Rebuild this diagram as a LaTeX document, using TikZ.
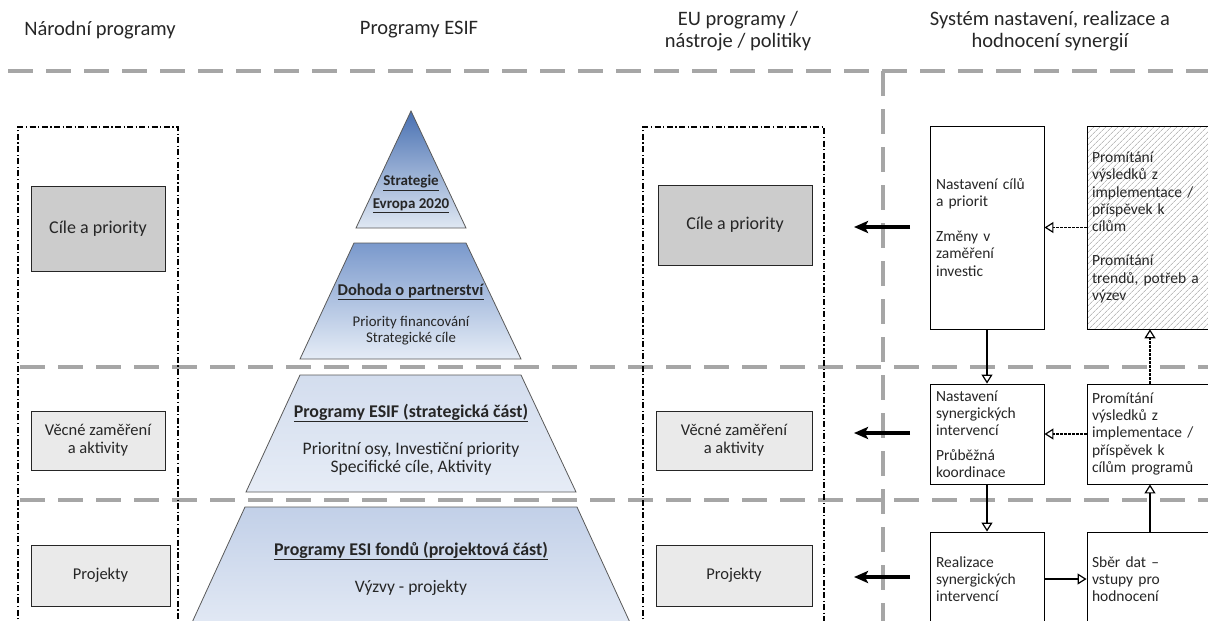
\documentclass[tikz,border=0pt]{standalone}
\usepackage{fontspec}
\setmainfont{Carlito}
\usetikzlibrary{arrows.meta,patterns.meta,calc}
\definecolor{txt}{HTML}{262626}
\definecolor{gline}{HTML}{A6A6A6}
\definecolor{boxgray}{HTML}{CCCCCC}
\definecolor{boxlight}{HTML}{EAEAEA}
\definecolor{pyrline}{HTML}{595959}
\definecolor{hatch}{HTML}{9A9A9A}
\definecolor{py1t}{HTML}{4870B2}
\definecolor{py1b}{HTML}{E0E8F3}
\definecolor{py2t}{HTML}{7A99CC}
\definecolor{py2b}{HTML}{E5ECF6}
\definecolor{py3t}{HTML}{D3DDEE}
\definecolor{py3b}{HTML}{E6ECF6}
\definecolor{py4t}{HTML}{C2D0E8}
\definecolor{py4b}{HTML}{E6ECF6}
\newcommand{\hdfont}{\fontsize{20.5}{22}\selectfont}
\newcommand{\rbfont}{\fontsize{15.5}{17.3}\selectfont}
\newcommand{\lbfont}{\fontsize{16.5}{18}\selectfont}
\newcommand{\ulb}[1]{\underline{\textbf{#1}}}
\begin{document}
\begin{tikzpicture}[x=1pt,y=-1pt,
  every node/.style={text=txt, inner sep=0pt},
  gdash/.style={draw=gline, line width=3.5pt, dash pattern=on 25pt off 13pt},
  ddbox/.style={draw=black, line width=1.2pt, dash pattern=on 6pt off 2.5pt on 1.2pt off 2.5pt},
  lbox/.style={draw=black!85, line width=0.9pt, fill=#1, font=\lbfont, align=center},
  rbox/.style={draw=black, line width=0.9pt, fill=white, align=left, font=\rbfont},
  hdr/.style={font=\hdfont, align=center},
  pyr/.style={draw=pyrline, line width=0.8pt},
  ptxt/.style={align=center},
  thick arrow/.style={line width=3.2pt, -{Stealth[length=14pt,width=12pt,inset=3pt]}},
  flow/.style={line width=1.4pt, -{Triangle[length=9pt,width=11pt,fill=white,line width=1.2pt]}},
  dflow/.style={flow, dash pattern=on 2.5pt off 1.5pt}
]
\path[use as bounding box] (0,0) rectangle (1208,621);
\clip (0,0) rectangle (1208,621);

% headers
\node[hdr] (h1) at (100,30) {Národní programy};
\node[hdr] (h2) at (419,30) {Programy ESIF};
\node[hdr] (h3) at (738,31) {EU programy /\\ nástroje / politiky};
\node[hdr] (h4) at (1050,31) {Systém nastavení, realizace a\\ hodnocení synergií};

% pyramid
\shade[top color=py1t, bottom color=py1b, pyr]
  (411,111) -- (466,228) -- (356,228) -- cycle;
\shade[top color=py2t, bottom color=py2b, pyr]
  (354,243) -- (466,243) -- (521,359) -- (300,359) -- cycle;
\shade[top color=py3t, bottom color=py3b, pyr]
  (300,375) -- (521,375) -- (576,492) -- (246,492) -- cycle;
\shade[top color=py4t, bottom color=py4b, pyr]
  (245,507) -- (577,507) -- (638,640) -- (184,640) -- cycle;

\node[ptxt, font=\fontsize{15}{16}\selectfont] (p1a) at (411,183) {\ulb{Strategie}};
\node[ptxt, font=\fontsize{15}{16}\selectfont] (p1b) at (411,206) {\ulb{Evropa 2020}};
\node[ptxt, font=\fontsize{16.5}{18}\selectfont] (p2a) at (411,292) {\ulb{Dohoda o partnerství}};
\node[ptxt, font=\fontsize{14.8}{16}\selectfont] (p2b) at (411,331) {Priority financování\\ Strategické cíle};
\node[ptxt, font=\fontsize{17.9}{18}\selectfont] (p3a) at (411,413) {\ulb{Programy ESIF (strategická část)}};
\node[ptxt, font=\fontsize{17.6}{18}\selectfont] (p3b) at (411,459) {Prioritní osy, Investiční priority\\ Specifické cíle, Aktivity};
\node[ptxt, font=\fontsize{17.9}{18}\selectfont] (p4a) at (411,551) {\ulb{Programy ESI fondů (projektová část)}};
\node[ptxt, font=\fontsize{17.5}{18}\selectfont] (p4b) at (411,588) {Výzvy - projekty};

% gray dashed separators
\draw[gdash] (8,71) -- (1208,71);
\draw[gdash] (883,71) -- (883,640);
\draw[gdash] (20,367) -- (1208,367);
\draw[gdash] (20,500) -- (1208,500);

% dash-dot frames
\draw[ddbox] (18,640) -- (18,127) -- (178,127) -- (178,640);
\draw[ddbox] (643,640) -- (643,127) -- (824,127) -- (824,640);

% left boxes
\node[lbox=boxgray, minimum width=134pt, minimum height=85pt, font=\fontsize{18}{19}\selectfont] (n1) at (98,228.5) {Cíle a priority};
\node[lbox=boxlight, minimum width=134pt, minimum height=59pt] (n2) at (98,440.5) {Věcné zaměření\\ a aktivity};
\node[lbox=boxlight, minimum width=139pt, minimum height=61pt] (n3) at (100.5,575.5) {Projekty};

% middle boxes
\node[lbox=boxgray, minimum width=154pt, minimum height=80pt, font=\fontsize{18}{19}\selectfont] (e1) at (735,225) {Cíle a priority};
\node[lbox=boxlight, minimum width=156pt, minimum height=59pt] (e2) at (734,440.5) {Věcné zaměření\\ a aktivity};
\node[lbox=boxlight, minimum width=156pt, minimum height=61pt] (e3) at (734,575.5) {Projekty};

% thick arrows
\coordinate (t1s) at (910,227); \coordinate (t1e) at (854,227);
\coordinate (t2s) at (910,433); \coordinate (t2e) at (854,433);
\coordinate (t3s) at (910,577); \coordinate (t3e) at (854,577);
\draw[thick arrow] (t1s) -- (t1e);
\draw[thick arrow] (t2s) -- (t2e);
\draw[thick arrow] (t3s) -- (t3e);

% right system boxes
\node[rbox, minimum width=114pt, minimum height=203pt, text width=102pt, inner xsep=6pt] (A) at (987,227.5)
  {Nastavení cílů\\ a priorit\\[17.3pt] Změny v\\ zaměření\\ investic};
\node[rbox, minimum width=126pt, minimum height=203pt, text width=116pt, inner xsep=5pt,
  pattern={Lines[angle=45,distance=4pt,line width=0.6pt]}, pattern color=hatch] (B) at (1150,227.5)
  {Promítání\\ výsledků z\\ implementace /\\ příspěvek k\\ cílům\\[17pt] Promítání\\ trendů, potřeb a\\ výzev};
\node[rbox, minimum width=114pt, minimum height=100pt, text width=102pt, inner xsep=6pt] (C) at (987,434)
  {Nastavení\\ synergických\\ intervencí\\[7pt] Průběžná\\ koordinace};
\node[rbox, minimum width=126pt, minimum height=100pt, text width=116pt, inner xsep=5pt] (D) at (1150,434)
  {Promítání\\ výsledků z\\ implementace /\\ příspěvek k\\ cílům programů};
\node[rbox, minimum width=114pt, minimum height=94pt, text width=102pt, inner xsep=6pt] (E) at (987,579)
  {Realizace\\ synergických\\ intervencí};
\node[rbox, minimum width=126pt, minimum height=94pt, text width=116pt, inner xsep=5pt] (F) at (1150,579)
  {Sběr dat –\\ vstupy pro\\ hodnocení};

% connectors
\draw[flow] (A.south) -- (C.north);
\draw[flow] (C.south) -- (E.north);
\draw[flow] (E.east) -- (F.west);
\draw[flow] (F.north) -- (D.south);
\draw[dflow] (D.north) -- (B.south);
\draw[dflow] (B.west) -- (A.east);
\draw[dflow] (D.west) -- (C.east);
\end{tikzpicture}
\end{document}
